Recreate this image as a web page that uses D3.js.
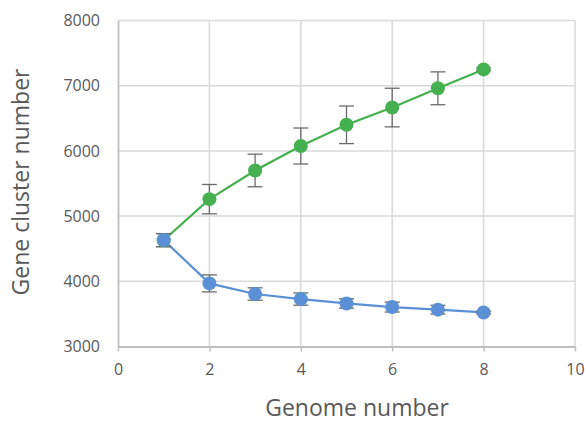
<!DOCTYPE html>
<html><head><meta charset="utf-8">
<script src="https://cdn.jsdelivr.net/npm/d3@7"></script>
<style>body{margin:0;background:#fff}svg{display:block}</style>
</head><body>
<svg id="c" width="585" height="423"></svg>
<script>
const genomes = [1,2,3,4,5,6,7,8];
const panValues = [4630,5260,5700,6075,6400,6665,6960,7250];
const panErrors = [100,225,250,276,288,296,252,20];
const coreValues = [4632,3968,3805,3727,3660,3605,3565,3522];
const coreErrors = [100,130,95,94,72,76,67,20];
const xTicks = [0,2,4,6,8,10];
const yTicks = [3000,4000,5000,6000,7000,8000];
const xTitle = "Genome number";
const yTitle = "Gene cluster number";

const svg = d3.select("#c");
const L=118, R=575, T=20.5, B=346.5;
const x = d3.scaleLinear().domain([0,10]).range([L,R]);
const y = d3.scaleLinear().domain([3000,8000]).range([B,T]);
const font = "'Open Sans', sans-serif";

// gridlines
svg.append("g").selectAll("line").data(yTicks.slice(1)).join("line")
  .attr("x1",L).attr("x2",R).attr("y1",d=>y(d)).attr("y2",d=>y(d))
  .attr("stroke","#d9d9d9").attr("stroke-width",1.5);
svg.append("g").selectAll("line").data(xTicks.slice(1)).join("line")
  .attr("y1",T).attr("y2",B).attr("x1",d=>x(d)).attr("x2",d=>x(d))
  .attr("stroke","#d9d9d9").attr("stroke-width",1.5);

// axes
const xAxis = svg.append("g").attr("transform",`translate(0,${B})`)
  .call(d3.axisBottom(x).tickValues(xTicks).tickSize(5).tickPadding(12).tickSizeOuter(0));
const yAxis = svg.append("g").attr("transform",`translate(${L},0)`)
  .call(d3.axisLeft(y).tickValues(yTicks).tickSize(0).tickPadding(18).tickFormat(d3.format("d")));
[xAxis,yAxis].forEach(a=>{
  a.select(".domain").attr("stroke","#bfbfbf").attr("stroke-width",1.8);
  a.selectAll(".tick line").attr("stroke","#bfbfbf").attr("stroke-width",1.5);
  a.selectAll("text").attr("fill","#595959").style("font-family",font).style("font-size","16px");
});

function series(vals, errs, color){
  const pts = genomes.map((g,i)=>({g,v:vals[i],e:errs[i]}));
  svg.append("path").datum(pts)
    .attr("d",d3.line().x(d=>x(d.g)).y(d=>y(d.v)))
    .attr("fill","none").attr("stroke",color).attr("stroke-width",2.2);
  const eb = svg.append("g").attr("stroke","#6b6b6b").attr("stroke-width",1.3);
  eb.selectAll(".v").data(pts).join("line")
    .attr("x1",d=>x(d.g)).attr("x2",d=>x(d.g)).attr("y1",d=>y(d.v-d.e)).attr("y2",d=>y(d.v+d.e));
  eb.selectAll(".t").data(pts).join("line")
    .attr("x1",d=>x(d.g)-7.5).attr("x2",d=>x(d.g)+7.5).attr("y1",d=>y(d.v+d.e)).attr("y2",d=>y(d.v+d.e));
  eb.selectAll(".b").data(pts).join("line")
    .attr("x1",d=>x(d.g)-7.5).attr("x2",d=>x(d.g)+7.5).attr("y1",d=>y(d.v-d.e)).attr("y2",d=>y(d.v-d.e));
  return pts;
}
const pp = series(panValues, panErrors, "#45b04f");
const cp = series(coreValues, coreErrors, "#5b90d6");
svg.append("g").selectAll("circle").data(pp).join("circle")
  .attr("cx",d=>x(d.g)).attr("cy",d=>y(d.v)).attr("r",7).attr("fill","#45b04f");
svg.append("g").selectAll("circle").data(cp).join("circle")
  .attr("cx",d=>x(d.g)).attr("cy",d=>y(d.v)).attr("r",7).attr("fill","#5b90d6");

svg.append("text").attr("x",357).attr("y",416).attr("text-anchor","middle")
  .attr("fill","#595959").style("font-family",font).style("font-size","23px").text(xTitle);
svg.append("text").attr("transform","translate(29,182) rotate(-90)").attr("text-anchor","middle")
  .attr("fill","#595959").style("font-family",font).style("font-size","23px").text(yTitle);
</script>
</body></html>
